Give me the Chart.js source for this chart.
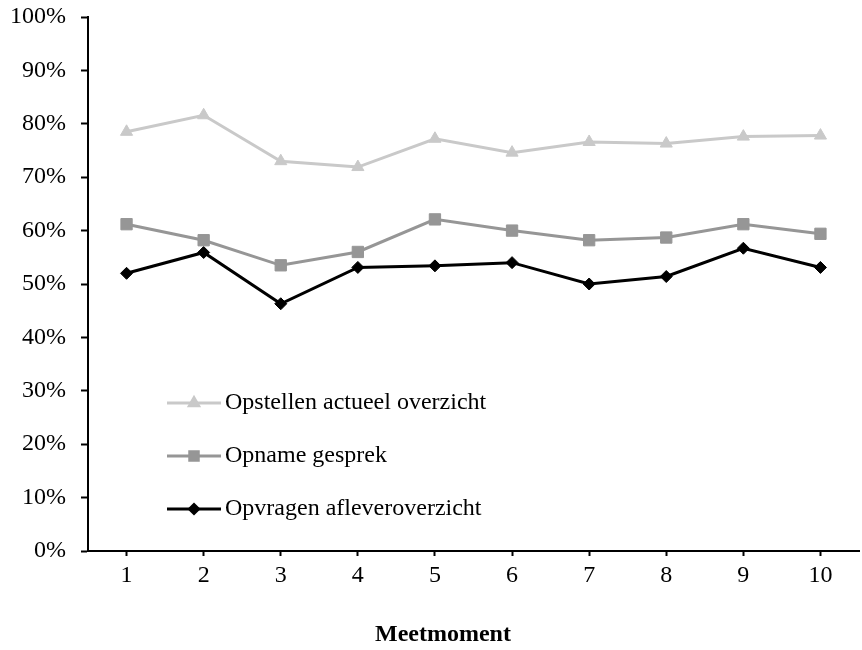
<!DOCTYPE html>
<html>
<head>
<meta charset="utf-8">
<script src="https://cdn.jsdelivr.net/npm/chart.js@4.4.1/dist/chart.umd.min.js"></script>
<style>
    html, body { margin: 0; padding: 0; background: #fff; overflow: hidden; }
    #wrap { width: 868px; height: 650px; }
</style>
</head>
<body>
<div id="wrap"><canvas id="chart" width="868" height="650"></canvas></div>
<script>
const meetmomenten = ['1', '2', '3', '4', '5', '6', '7', '8', '9', '10'];
const yTicks = [0, 10, 20, 30, 40, 50, 60, 70, 80, 90, 100];
const xTitle = 'Meetmoment';

const opstellenActueel = [78.5, 81.6, 73.0, 71.9, 77.2, 74.6, 76.6, 76.3, 77.6, 77.8];
const opnameGesprek = [61.2, 58.2, 53.5, 56.0, 62.1, 60.0, 58.2, 58.7, 61.2, 59.4];
const opvragenAflever = [52.0, 55.9, 46.3, 53.1, 53.4, 54.0, 50.0, 51.4, 56.7, 53.1];

const serif = "'Liberation Serif', 'Times New Roman', serif";

// legend drawn inside the plot area, lower left
const innerLegend = {
    id: 'innerLegend',
    afterDatasetsDraw(chart) {
        const ctx = chart.ctx;
        const area = chart.chartArea;
        const x0 = area.left + 79;
        const rows = [403, 456, 509];
        chart.data.datasets.forEach((ds, i) => {
            const y = rows[i];
            ctx.save();
            ctx.strokeStyle = ds.borderColor;
            ctx.lineWidth = 3;
            ctx.beginPath();
            ctx.moveTo(x0, y);
            ctx.lineTo(x0 + 54, y);
            ctx.stroke();
            Chart.helpers.drawPoint(ctx, {
                pointStyle: ds.pointStyle,
                radius: ds.pointRadius * 0.75,
                borderWidth: 1
            }, x0 + 27, y);
            ctx.fillStyle = ds.pointBackgroundColor;
            ctx.fill();
            ctx.fillStyle = '#000';
            ctx.font = '24px ' + serif;
            ctx.textBaseline = 'middle';
            ctx.fillText(ds.label, x0 + 58, y);
            ctx.restore();
        });
    }
};

// axis title sits a bit left of the plot centre, as in the original
const axisTitle = {
    id: 'axisTitle',
    afterDraw(chart) {
        const ctx = chart.ctx;
        ctx.save();
        ctx.fillStyle = '#000';
        ctx.font = 'bold 24px ' + serif;
        ctx.textAlign = 'center';
        ctx.textBaseline = 'middle';
        ctx.fillText(xTitle, 443, 635);
        ctx.restore();
    }
};

const ctx = document.getElementById('chart').getContext('2d');
new Chart(ctx, {
    type: 'line',
    data: {
        labels: meetmomenten,
        datasets: [
            {
                label: 'Opstellen actueel overzicht',
                data: opstellenActueel,
                borderColor: '#c9c9c9',
                backgroundColor: '#c9c9c9',
                pointBackgroundColor: '#c9c9c9',
                pointBorderColor: '#c9c9c9',
                pointStyle: 'triangle',
                pointRadius: 7,
                pointBorderWidth: 1,
                borderWidth: 3,
                tension: 0
            },
            {
                label: 'Opname gesprek',
                data: opnameGesprek,
                borderColor: '#969696',
                backgroundColor: '#969696',
                pointBackgroundColor: '#969696',
                pointBorderColor: '#969696',
                pointStyle: 'rect',
                pointRadius: 8,
                pointBorderWidth: 1,
                borderWidth: 3,
                tension: 0
            },
            {
                label: 'Opvragen afleveroverzicht',
                data: opvragenAflever,
                borderColor: '#000000',
                backgroundColor: '#000000',
                pointBackgroundColor: '#000000',
                pointBorderColor: '#000000',
                pointStyle: 'rectRot',
                pointRadius: 6,
                pointBorderWidth: 1,
                borderWidth: 3,
                tension: 0
            }
        ]
    },
    options: {
        responsive: false,
        animation: false,
        layout: { padding: { top: 17, right: 0, bottom: 0, left: 0 } },
        plugins: {
            legend: { display: false },
            tooltip: { enabled: false }
        },
        scales: {
            x: {
                offset: true,
                grid: {
                    offset: false,
                    drawOnChartArea: false,
                    drawTicks: true,
                    tickLength: 5,
                    tickWidth: 2,
                    tickColor: '#000'
                },
                border: { color: '#000', width: 2 },
                ticks: {
                    color: '#000',
                    font: { family: serif, size: 24 },
                    padding: 5,
                    maxRotation: 0,
                    autoSkip: false
                },
                afterFit: (scale) => {
                    scale.height = 99;
                    scale.paddingLeft = 0;
                    scale.paddingRight = 0;
                }
            },
            y: {
                min: 0,
                max: 100,
                afterBuildTicks: (scale) => { scale.ticks = yTicks.map(v => ({ value: v })); },
                grid: {
                    drawOnChartArea: false,
                    drawTicks: true,
                    tickLength: 7,
                    tickWidth: 2,
                    tickColor: '#000'
                },
                border: { color: '#000', width: 2 },
                ticks: {
                    color: '#000',
                    font: { family: serif, size: 24 },
                    padding: 15,
                    callback: (v) => v + '%'
                },
                afterFit: (scale) => {
                    scale.width = 88;
                    scale.paddingTop = 0;
                    scale.paddingBottom = 0;
                }
            }
        }
    },
    plugins: [innerLegend, axisTitle]
});
</script>
</body>
</html>
